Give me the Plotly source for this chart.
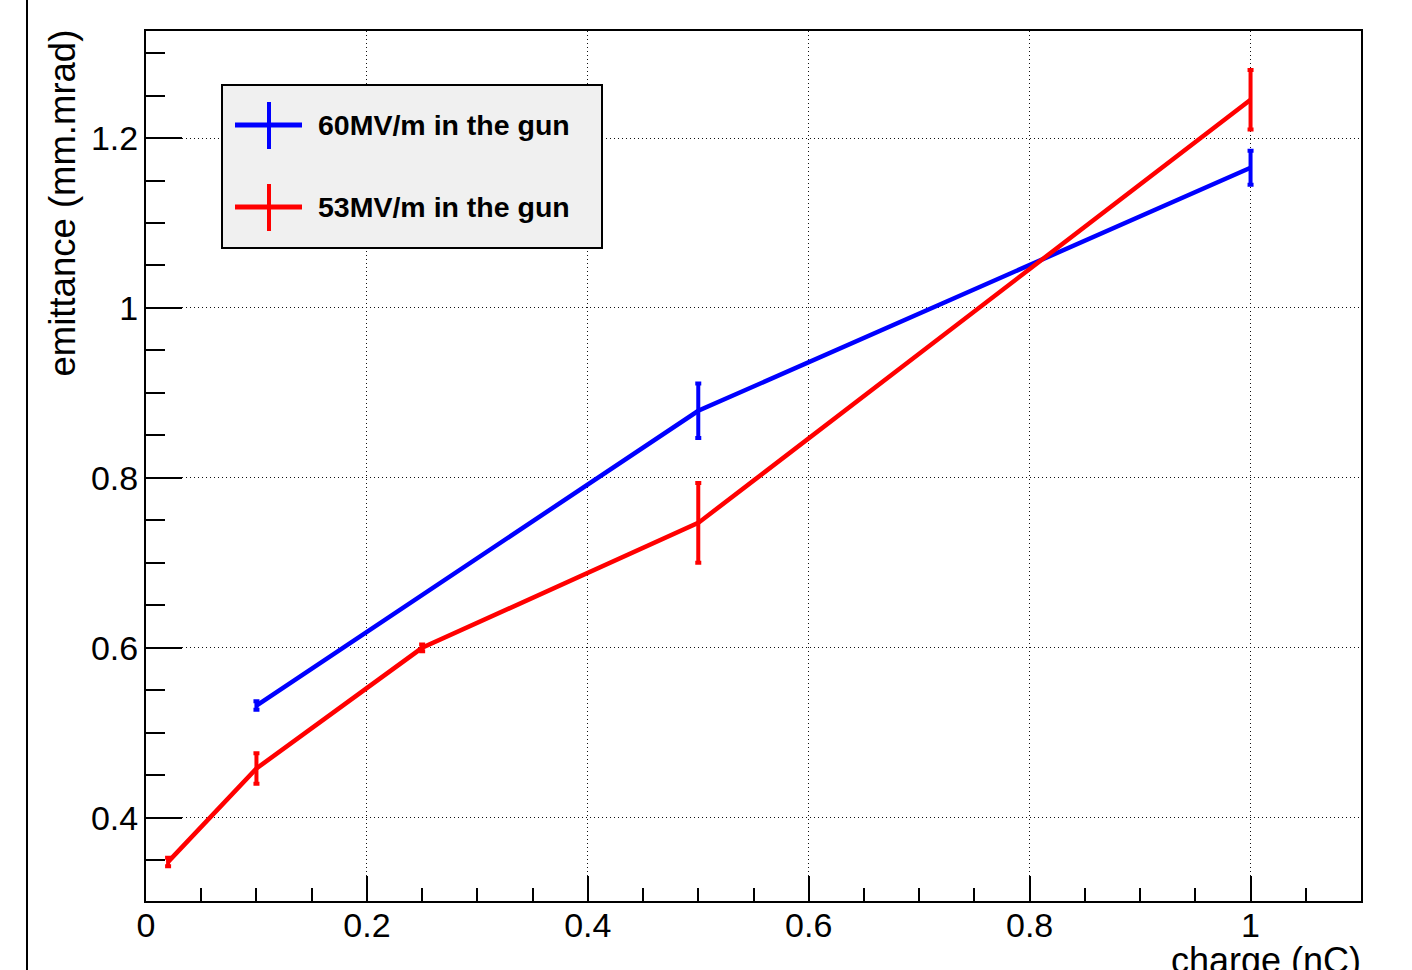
import plotly.graph_objects as go

# ---- data ----
charge_60 = [0.1, 0.5, 1.0]
emit_60 = [0.532, 0.879, 1.165]
err_60 = [0.005, 0.032, 0.020]

charge_53 = [0.02, 0.1, 0.25, 0.5, 1.0]
emit_53 = [0.348, 0.458, 0.600, 0.747, 1.245]
err_53 = [0.005, 0.018, 0.004, 0.047, 0.035]

series_names = ["60MV/m in the gun", "53MV/m in the gun"]
series_colors = ["#0000ff", "#ff0000"]

x_ticks = [0, 0.2, 0.4, 0.6, 0.8, 1]
y_ticks = [0.4, 0.6, 0.8, 1, 1.2]

x_title = "charge (nC)"
y_title = "emittance (mm.mrad)"

# ---- layout geometry (pixels) ----
W, H = 1412, 970
ML, MR, MT, MB = 146, 51, 31, 69
PW, PH = W - ML - MR, H - MT - MB


def px(xp):
    return (xp - ML) / PW


def py(yp):
    return (H - MB - yp) / PH


FONT = "Liberation Sans, Arial, Helvetica, sans-serif"

fig = go.Figure()
data = [(charge_60, emit_60, err_60), (charge_53, emit_53, err_53)]
for (xs, ys, es), name, col in zip(data, series_names, series_colors):
    fig.add_trace(go.Scatter(
        x=xs, y=ys, name=name, mode="lines",
        line=dict(color=col, width=4.5),
        error_y=dict(type="data", array=es, visible=True, color=col,
                     thickness=4, width=3),
        showlegend=False,
    ))

axis_common = dict(
    showline=True, mirror=True, linecolor="black", linewidth=2,
    ticks="inside", tickcolor="black", tickwidth=1.5,
    showgrid=True, gridcolor="#111111", gridwidth=1, griddash="1px,3px",
    zeroline=False,
    tickfont=dict(family=FONT, size=34, color="black"),
)

fig.update_layout(
    width=W, height=H, autosize=False,
    margin=dict(l=ML, r=MR, t=MT, b=MB, pad=0),
    paper_bgcolor="white", plot_bgcolor="white",
    xaxis=dict(range=[0, 1.1], tickmode="array", tickvals=x_ticks,
               ticklen=25, ticklabelstandoff=-7,
               minor=dict(dtick=0.05, tick0=0, ticks="inside", ticklen=13,
                          tickcolor="black", tickwidth=1.5, showgrid=False),
               **axis_common),
    yaxis=dict(range=[0.302, 1.326], tickmode="array", tickvals=y_ticks,
               ticklen=36, ticklabelstandoff=-1,
               minor=dict(dtick=0.05, tick0=0, ticks="inside", ticklen=19,
                          tickcolor="black", tickwidth=1.5, showgrid=False),
               **axis_common),
    showlegend=False,
)

shapes = []
annotations = []

# canvas left border
shapes.append(dict(type="line", xref="paper", yref="paper",
                   x0=px(27), x1=px(27), y0=py(H + 5), y1=py(-5),
                   line=dict(color="black", width=2)))

# legend box
shapes.append(dict(type="rect", xref="paper", yref="paper",
                   x0=px(222), x1=px(602), y0=py(248), y1=py(85),
                   fillcolor="#f0f0f0", line=dict(color="black", width=2),
                   layer="above"))
legend_rows = [125, 207]
for name, col, yr in zip(series_names, series_colors, legend_rows):
    shapes.append(dict(type="line", xref="paper", yref="paper",
                       x0=px(235), x1=px(302), y0=py(yr), y1=py(yr),
                       line=dict(color=col, width=5), layer="above"))
    shapes.append(dict(type="line", xref="paper", yref="paper",
                       x0=px(269), x1=px(269), y0=py(yr - 23), y1=py(yr + 24),
                       line=dict(color=col, width=4), layer="above"))
    annotations.append(dict(text="<b>%s</b>" % name, xref="paper", yref="paper",
                            x=px(316), y=py(yr), xanchor="left", yanchor="middle",
                            showarrow=False,
                            font=dict(family=FONT, size=28.5, color="black")))

# axis titles
annotations.append(dict(text=y_title, xref="paper", yref="paper",
                        x=px(62), y=py(28), xanchor="center", yanchor="top",
                        textangle=-90, showarrow=False,
                        font=dict(family=FONT, size=36.5, color="black")))
annotations.append(dict(text=x_title, xref="paper", yref="paper",
                        x=px(1363), y=py(960), xanchor="right", yanchor="middle",
                        showarrow=False,
                        font=dict(family=FONT, size=36, color="black")))

fig.update_layout(shapes=shapes, annotations=annotations)
fig.write_html("out.html")
